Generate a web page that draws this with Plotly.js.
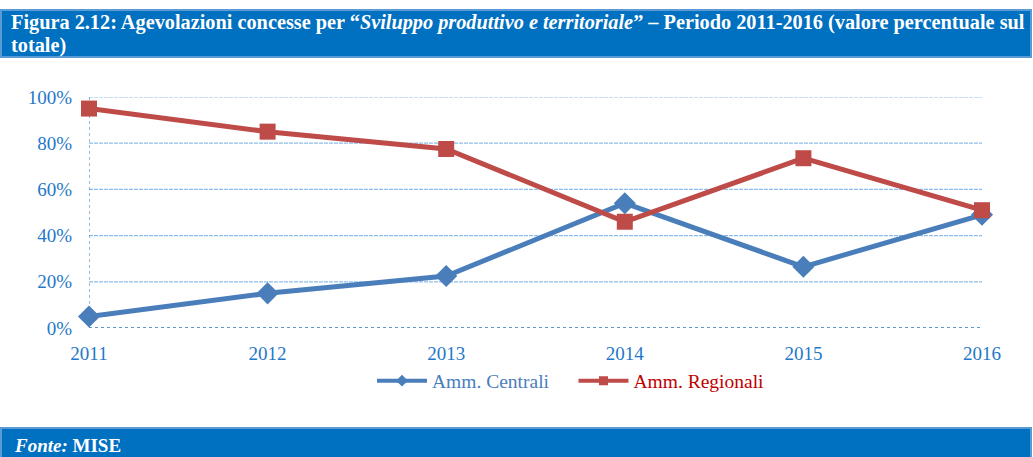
<!DOCTYPE html>
<html><head><meta charset="utf-8">
<script src="https://cdn.plot.ly/plotly-3.0.1.min.js"></script>
<style>html,body{margin:0;padding:0;background:#fff}#chart{width:1033px;height:457px}</style>
</head><body><div id="chart"></div>
<script>
var years = [2011, 2012, 2013, 2014, 2015, 2016];
var centrali = [0.05, 0.15, 0.225, 0.54, 0.265, 0.49];
var regionali = [0.95, 0.85, 0.775, 0.46, 0.735, 0.51];
var yTicks = [0, 0.2, 0.4, 0.6, 0.8, 1.0];
var yTickText = ['0%', '20%', '40%', '60%', '80%', '100%'];
var seriesNames = ['Amm. Centrali', 'Amm. Regionali'];
var titleLine1 = 'Figura 2.12: Agevolazioni concesse per “<i>Sviluppo produttivo e territoriale</i>” – Periodo 2011-2016 (valore percentuale sul';
var titleLine2 = 'totale)';
var sourceText = '<i>Fonte:</i> MISE';

var blue = '#4A7EBB', red = '#BE4B48', axisBlue = '#1F78C8';
var W = 893, H = 231; // plot area px
function py(pix) { return (328 - pix) / H; }
function px(pix) { return (pix - 89) / W; }
var traces = [
  {x: years, y: centrali, mode: 'lines+markers', type: 'scatter', cliponaxis: false, showlegend: false,
   line: {color: blue, width: 5}, marker: {symbol: 'diamond', size: 17, color: blue}},
  {x: years, y: regionali, mode: 'lines+markers', type: 'scatter', cliponaxis: false, showlegend: false,
   line: {color: red, width: 5}, marker: {symbol: 'square', size: 16, color: red}},
  {x: [null], y: [null], mode: 'lines+markers', type: 'scatter',
   name: '<span style="color:#4A7EBB">' + seriesNames[0] + '</span>\u00a0\u00a0\u00a0\u00a0',
   line: {color: blue, width: 4}, marker: {symbol: 'diamond', size: 9, color: blue}},
  {x: [null], y: [null], mode: 'lines+markers', type: 'scatter',
   name: '<span style="color:#C00000">' + seriesNames[1] + '</span>',
   line: {color: red, width: 4}, marker: {symbol: 'square', size: 9, color: red}}
];
var shapes = yTicks.filter(function (v) { return v > 0; }).map(function (v) {
  return {type: 'line', xref: 'x', yref: 'y', x0: 2011, x1: 2016, y0: v, y1: v,
          line: {color: '#8DBDEA', width: 1.2, dash: '4px,1px'}, layer: 'below'};
});
shapes.push(
  {type: 'line', xref: 'x', yref: 'y', x0: 2011, x1: 2011, y0: 0, y1: 1, line: {color: '#2E75B6', width: 1, dash: 'dot'}, layer: 'below'},
  {type: 'line', xref: 'x', yref: 'y', x0: 2011, x1: 2016, y0: 0, y1: 0, line: {color: '#2E75B6', width: 1.5, dash: 'dot'}, layer: 'below'},
  {type: 'rect', xref: 'paper', yref: 'paper', x0: px(1), x1: px(1031), y0: py(10), y1: py(57), fillcolor: '#0070C0', line: {color: '#5B9BD5', width: 2}},
  {type: 'rect', xref: 'paper', yref: 'paper', x0: px(1), x1: px(1031), y0: py(428), y1: py(460), fillcolor: '#0070C0', line: {color: '#5B9BD5', width: 2}}
);
var layout = {
  width: 1033, height: 457,
  margin: {l: 89, r: 51, t: 97, b: 129},
  paper_bgcolor: '#fff', plot_bgcolor: '#fff',
  font: {family: 'Liberation Serif, Times New Roman, serif', color: axisBlue, size: 19},
  showlegend: true,
  legend: {orientation: 'h', x: px(571), xanchor: 'center', y: py(381), yanchor: 'middle',
           bgcolor: 'rgba(0,0,0,0)', font: {size: 19.5}, itemwidth: 50, tracegroupgap: 0},
  xaxis: {range: [2011, 2016], tickvals: years, ticktext: years.map(String), showgrid: false,
          zeroline: false, showline: false, ticks: '', ticklabelstandoff: 12, fixedrange: true},
  yaxis: {range: [0, 1], tickvals: yTicks, ticktext: yTickText, showgrid: false,
          zeroline: false, showline: false, ticks: '', ticklabelstandoff: 16, fixedrange: true},
  shapes: shapes,
  annotations: [
    {xref: 'paper', yref: 'paper', x: px(9), y: py(23), xanchor: 'left', yanchor: 'middle', align: 'left', showarrow: false,
     text: '<b>' + titleLine1 + '</b>', font: {family: 'Liberation Serif, serif', size: 20.3, color: '#fff'}},
    {xref: 'paper', yref: 'paper', x: px(9), y: py(45), xanchor: 'left', yanchor: 'middle', align: 'left', showarrow: false,
     text: '<b>' + titleLine2 + '</b>', font: {family: 'Liberation Serif, serif', size: 20.3, color: '#fff'}},
    {xref: 'paper', yref: 'paper', x: px(12), y: py(445), xanchor: 'left', yanchor: 'middle', align: 'left', showarrow: false,
     text: '<b>' + sourceText + '</b>', font: {family: 'Liberation Serif, serif', size: 19, color: '#fff'}}
  ]
};
Plotly.newPlot('chart', traces, layout, {displayModeBar: false, staticPlot: true});
</script></body></html>
